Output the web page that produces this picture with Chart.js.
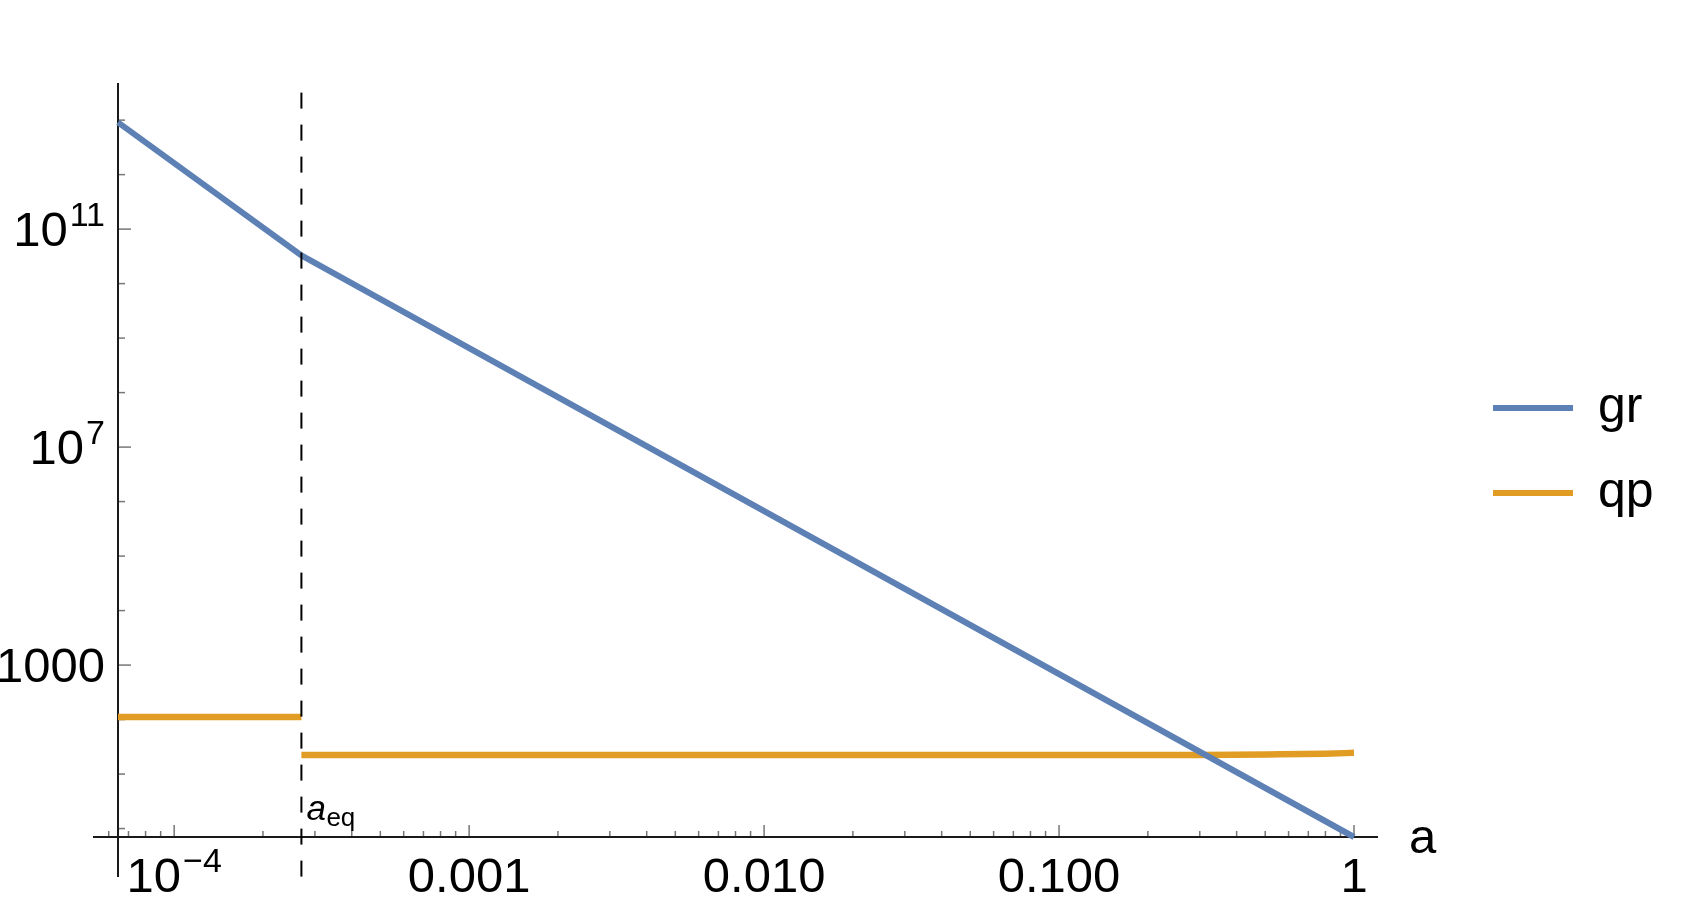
<!DOCTYPE html>
<html>
<head>
<meta charset="utf-8">
<script src="https://cdn.jsdelivr.net/npm/chart.js@4"></script>
<style>
  body { margin: 0; background: #fff; }
  canvas { display: block; }
</style>
</head>
<body>
<canvas id="grafico" width="1685" height="907"></canvas>
<script>
// --- datos ---
const aEq = 2.7e-4;
const grA = [6.45e-5, 2.7e-4, 1];
const grValores = [9.1e12, 3.3e10, 0.7];
const qpA = [6.45e-5, 2.7e-4, 2.7e-4, 2.7e-4, 0.3, 0.56, 0.8, 1];
const qpValores = [111, 111, null, 22.3, 22.3, 23.0, 23.7, 24.5];
const lineaEqY = [3.2e13, 0.13];   // extremos de la línea discontinua

const xTicks = [1e-4, 1e-3, 0.01, 0.1, 1];
const xEtiquetas = [['10', '\u22124'], ['0.001'], ['0.010'], ['0.100'], ['1']];
const yTicks = [1e3, 1e7, 1e11];
const yEtiquetas = [['1000'], ['10', '7'], ['10', '11']];

const series = ['gr', 'qp'];
const colores = ['#5E81B5', '#E19C24'];

const FUENTE = '"Liberation Sans", Arial, sans-serif';

function puntos(xs, ys) {
    return xs.map((x, i) => ({ x: x, y: ys[i] }));
}

// texto con exponente opcional; alinear: 'left' | 'center' | 'right'
function textoPotencia(ctx, partes, x, base, alinear) {
    ctx.font = '49px ' + FUENTE;
    const w1 = ctx.measureText(partes[0]).width;
    let w2 = 0;
    if (partes[1]) {
        ctx.font = '34px ' + FUENTE;
        w2 = ctx.measureText(partes[1]).width + 2;
    }
    const total = w1 + w2;
    let x0 = x;
    if (alinear === 'center') x0 = x - total / 2;
    if (alinear === 'right') x0 = x - total;
    ctx.textAlign = 'left';
    ctx.textBaseline = 'alphabetic';
    ctx.font = '49px ' + FUENTE;
    ctx.fillText(partes[0], x0, base);
    if (partes[1]) {
        ctx.font = '34px ' + FUENTE;
        ctx.fillText(partes[1], x0 + w1 + 2, base - 20);
    }
}

// --- ejes al estilo Mathematica ---
const ejesPlugin = {
    id: 'ejes',
    beforeDatasetsDraw(chart) {
        const ctx = chart.ctx;
        const sx = chart.scales.x, sy = chart.scales.y;
        const x0 = sx.getPixelForValue(sx.min);
        const y0 = sy.getPixelForValue(sy.min);
        ctx.save();
        // ticks del eje x (hacia arriba)
        ctx.strokeStyle = '#777';
        ctx.lineWidth = 1.5;
        for (let d = -5; d <= 0; d++) {
            for (let k = 1; k <= 9; k++) {
                const v = k * Math.pow(10, d);
                if (v < 5.5e-5 || v > sx.max) continue;
                const px = sx.getPixelForValue(v);
                const largo = (k === 1) ? 12 : 6;
                ctx.beginPath();
                ctx.moveTo(px, y0);
                ctx.lineTo(px, y0 - largo);
                ctx.stroke();
            }
        }
        // ticks del eje y (hacia la derecha)
        for (let d = 0; d <= 13; d++) {
            const py = sy.getPixelForValue(Math.pow(10, d));
            const largo = yTicks.includes(Math.pow(10, d)) ? 13 : 7;
            ctx.beginPath();
            ctx.moveTo(x0, py);
            ctx.lineTo(x0 + largo, py);
            ctx.stroke();
        }
        // líneas de los ejes
        ctx.strokeStyle = '#1a1a1a';
        ctx.lineWidth = 2;
        ctx.beginPath();
        ctx.moveTo(x0 - 25, y0);
        ctx.lineTo(chart.chartArea.right, y0);
        ctx.moveTo(x0, chart.chartArea.top);
        ctx.lineTo(x0, y0 + 40);
        ctx.stroke();
        ctx.restore();
    },
    afterDraw(chart) {
        const ctx = chart.ctx;
        const sx = chart.scales.x, sy = chart.scales.y;
        const x0 = sx.getPixelForValue(sx.min);
        const y0 = sy.getPixelForValue(sy.min);
        ctx.save();
        ctx.fillStyle = '#000';
        // etiquetas x
        xTicks.forEach((v, i) => {
            textoPotencia(ctx, xEtiquetas[i], sx.getPixelForValue(v), y0 + 55, 'center');
        });
        // etiquetas y
        yTicks.forEach((v, i) => {
            textoPotencia(ctx, yEtiquetas[i], x0 - 13, sy.getPixelForValue(v) + 17, 'right');
        });
        // nombre del eje x
        ctx.font = '49px ' + FUENTE;
        ctx.textAlign = 'left';
        ctx.fillText('a', chart.chartArea.right + 31, y0 + 16);
        // etiqueta a_eq
        const pxEq = sx.getPixelForValue(aEq);
        ctx.font = 'italic 35px ' + FUENTE;
        ctx.fillText('a', pxEq + 5, y0 - 17);
        ctx.font = '26px ' + FUENTE;
        ctx.fillText('eq', pxEq + 25, y0 - 11);
        // leyenda
        series.forEach((nombre, i) => {
            const ly = 408 + i * 85;
            ctx.strokeStyle = colores[i];
            ctx.lineWidth = 6;
            ctx.beginPath();
            ctx.moveTo(1493, ly);
            ctx.lineTo(1573, ly);
            ctx.stroke();
            ctx.font = '50px ' + FUENTE;
            ctx.fillStyle = '#000';
            ctx.fillText(nombre, 1598, ly + 14);
        });
        ctx.restore();
    }
};

new Chart(document.getElementById('grafico').getContext('2d'), {
    type: 'line',
    data: {
        datasets: [
            {
                label: 'aeq',
                data: puntos([aEq, aEq], lineaEqY),
                borderColor: '#000',
                borderWidth: 2,
                borderDash: [16, 16],
                pointRadius: 0,
                clip: false
            },
            {
                label: series[0],
                data: puntos(grA, grValores),
                borderColor: colores[0],
                borderWidth: 6,
                pointRadius: 0,
                clip: false
            },
            {
                label: series[1],
                data: puntos(qpA, qpValores),
                borderColor: colores[1],
                borderWidth: 6.5,
                pointRadius: 0,
                spanGaps: false,
                cubicInterpolationMode: 'monotone',
                clip: false
            }
        ]
    },
    options: {
        responsive: false,
        animation: false,
        layout: { padding: { left: 118, right: 307, top: 83, bottom: 70 } },
        plugins: { legend: { display: false }, tooltip: { enabled: false } },
        scales: {
            x: { type: 'logarithmic', min: 6.45e-5, max: 1.206, display: false },
            y: { type: 'logarithmic', min: 0.7, max: 4.8e13, display: false }
        }
    },
    plugins: [ejesPlugin]
});
</script>
</body>
</html>
